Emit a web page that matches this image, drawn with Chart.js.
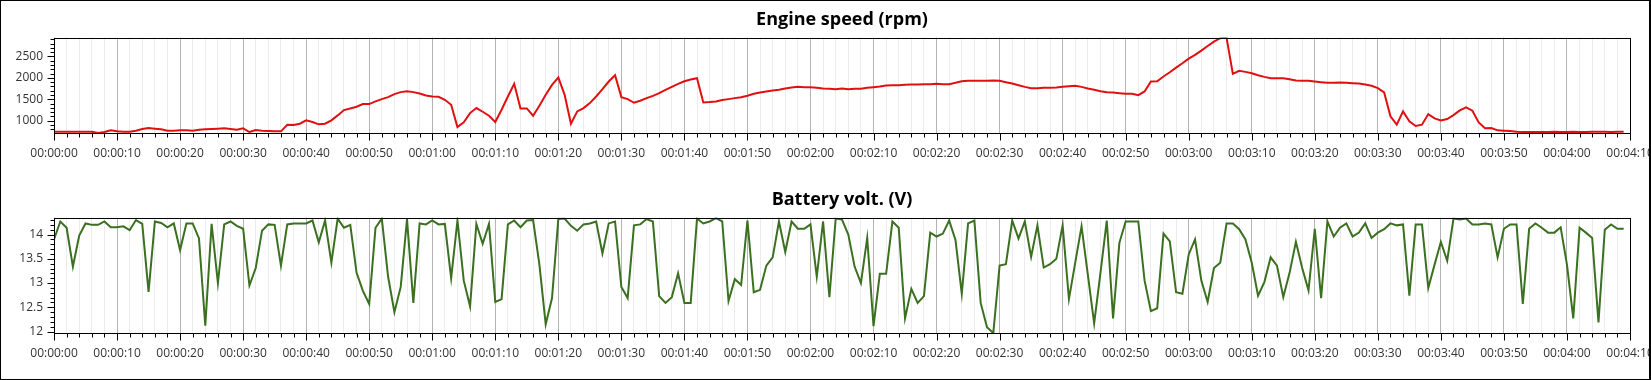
<!DOCTYPE html>
<html>
<head>
<meta charset="utf-8">
<title>Engine speed / Battery volt.</title>
<script src="https://cdn.jsdelivr.net/npm/chart.js@4.4.1/dist/chart.umd.min.js"></script>
<style>
  html, body { margin: 0; padding: 0; background: #fff; }
  #wrap { position: relative; width: 1651px; height: 380px; overflow: hidden; }
  #clip { position: absolute; left: 0; top: 0; width: 1649px; height: 380px; overflow: hidden; }
  #rpmCanvas { position: absolute; left: 0; top: 0; }
  #voltCanvas { position: absolute; left: 0; top: 180px; }
  #frame { position: absolute; left: 0; top: 0; width: 1651px; height: 380px; box-sizing: border-box;
           border: 1px solid #000; border-right-width: 2px; pointer-events: none; }
</style>
</head>
<body>
<div id="wrap">
  <div id="clip">
    <canvas id="rpmCanvas" width="1700" height="180"></canvas>
    <canvas id="voltCanvas" width="1700" height="200"></canvas>
  </div>
  <div id="frame"></div>
</div>
<script>
// x axis labels, one every 10 s
const TIME_LABELS = [
  '00:00:00', '00:00:10', '00:00:20', '00:00:30', '00:00:40', '00:00:50',
  '00:01:00', '00:01:10', '00:01:20', '00:01:30', '00:01:40', '00:01:50',
  '00:02:00', '00:02:10', '00:02:20', '00:02:30', '00:02:40', '00:02:50',
  '00:03:00', '00:03:10', '00:03:20', '00:03:30', '00:03:40', '00:03:50',
  '00:04:00', '00:04:10',
];
const RPM_LABELS = [1000, 1500, 2000, 2500];
const VOLT_LABELS = [12, 12.5, 13, 13.5, 14];

// one sample per second
const rpm = [
  740, 740, 740, 745, 745, 745, 740, 715, 735, 775,
  752, 745, 740, 765, 806, 829, 814, 798, 767, 767,
  775, 775, 767, 790, 798, 806, 814, 822, 806, 790,
  822, 736, 783, 767, 760, 752, 752, 907, 899, 930,
  1008, 969, 915, 930, 1008, 1124, 1248, 1287, 1326, 1388,
  1388, 1450, 1504, 1550, 1620, 1667, 1690, 1667, 1636, 1589,
  1566, 1558, 1488, 1372, 853, 961, 1178, 1295, 1209, 1116,
  969, 1256, 1566, 1860, 1287, 1287, 1116, 1349, 1605, 1837,
  2008, 1605, 930, 1217, 1295, 1411, 1566, 1736, 1915, 2062,
  1550, 1504, 1419, 1465, 1527, 1581, 1643, 1721, 1790, 1860,
  1922, 1961, 1992, 1426, 1434, 1450, 1481, 1504, 1527, 1550,
  1581, 1628, 1659, 1682, 1705, 1721, 1752, 1775, 1790, 1783,
  1783, 1767, 1752, 1744, 1736, 1752, 1736, 1744, 1744, 1767,
  1783, 1798, 1822, 1829, 1829, 1837, 1845, 1845, 1853, 1853,
  1860, 1853, 1853, 1884, 1922, 1930, 1930, 1930, 1930, 1938,
  1930, 1899, 1868, 1829, 1790, 1760, 1760, 1767, 1767, 1775,
  1790, 1806, 1814, 1790, 1752, 1721, 1690, 1667, 1659, 1643,
  1628, 1628, 1597, 1682, 1915, 1922, 2031, 2132, 2240, 2341,
  2450, 2535, 2636, 2744, 2845, 2925, 2940, 2093, 2163, 2140,
  2109, 2062, 2023, 1992, 1992, 1992, 1969, 1938, 1930, 1930,
  1915, 1899, 1884, 1884, 1891, 1884, 1876, 1868, 1845, 1814,
  1760, 1659, 1101, 907, 1217, 985, 876, 907, 1155, 1054,
  1008, 1039, 1132, 1240, 1310, 1233, 961, 822, 829, 775,
  767, 760, 744, 736, 736, 736, 736, 736, 740, 736,
  736, 740, 736, 736, 740, 744, 740, 736, 740, 744,
];

const volt = [
  13.90, 14.27, 14.14, 13.34, 13.98, 14.23, 14.20, 14.20, 14.27, 14.15,
  14.15, 14.17, 14.09, 14.30, 14.22, 12.82, 14.27, 14.24, 14.15, 14.23,
  13.68, 14.23, 14.23, 13.92, 12.12, 14.22, 13.00, 14.21, 14.27, 14.18,
  14.12, 12.95, 13.31, 14.08, 14.21, 14.20, 13.36, 14.21, 14.23, 14.23,
  14.23, 14.29, 13.84, 14.29, 13.42, 14.33, 14.14, 14.20, 13.21, 12.84,
  12.57, 14.14, 14.33, 13.13, 12.40, 12.92, 14.32, 12.59, 14.23, 14.21,
  14.29, 14.21, 14.22, 13.10, 14.29, 13.05, 12.52, 14.22, 13.81, 14.22,
  12.61, 12.67, 14.21, 14.29, 14.15, 14.29, 14.30, 13.38, 12.15, 12.69,
  14.32, 14.33, 14.18, 14.08, 14.21, 14.23, 14.27, 13.61, 14.23, 14.27,
  12.92, 12.69, 14.19, 14.21, 14.32, 14.27, 12.73, 12.59, 12.71, 13.20,
  12.59, 12.59, 14.33, 14.23, 14.27, 14.34, 14.27, 12.63, 13.08, 12.96,
  14.29, 12.81, 12.86, 13.36, 13.53, 14.27, 13.64, 14.27, 14.12, 14.12,
  14.21, 13.13, 14.27, 12.71, 14.33, 14.31, 14.00, 13.34, 13.00, 13.93,
  12.11, 13.19, 13.19, 14.27, 14.14, 12.27, 12.88, 12.59, 12.73, 14.04,
  13.96, 14.02, 14.29, 13.89, 12.78, 14.23, 14.29, 12.59, 12.09, 11.97,
  13.36, 13.39, 14.29, 13.92, 14.27, 13.54, 14.19, 13.32, 13.39, 13.50,
  14.19, 12.67, 13.42, 14.17, 13.17, 12.17, 13.21, 14.29, 12.27, 13.83,
  14.27, 14.27, 14.27, 13.05, 12.42, 12.48, 14.02, 13.86, 12.81, 12.78,
  13.59, 13.90, 13.05, 12.61, 13.31, 13.42, 14.23, 14.23, 14.11, 13.90,
  13.42, 12.74, 13.02, 13.53, 13.36, 12.71, 13.21, 13.85, 13.31, 12.85,
  14.12, 12.69, 14.27, 13.96, 14.14, 14.23, 13.96, 14.04, 14.23, 13.93,
  14.04, 14.11, 14.23, 14.19, 14.21, 12.74, 14.21, 14.21, 12.90, 13.38,
  13.85, 13.46, 14.33, 14.31, 14.33, 14.21, 14.21, 14.23, 14.21, 13.53,
  14.12, 14.21, 14.21, 12.57, 14.12, 14.23, 14.14, 14.04, 14.04, 14.15,
  13.38, 12.27, 14.14, 14.04, 13.93, 12.19, 14.10, 14.21, 14.12, 14.12,
];

const FONT = '"Segoe UI", "Open Sans", sans-serif';
const X_MAX = (TIME_LABELS.length - 1) * 10;

// minor ticks on the value axis: 100 rpm / 0.1 V
function minorTicks(from, to, step) {
  const out = [];
  for (let v = from; v <= to + step / 2; v += step) out.push(Math.round(v * 100) / 100);
  return out;
}

// small tick marks outside the plot + black frame round the plot
const axisMarks = {
  id: 'axisMarks',
  afterDraw(chart, args, opts) {
    const { ctx, chartArea: a, scales: { x, y } } = chart;
    const left = Math.round(a.left) + 0.5;
    const bottom = Math.round(a.bottom) + 0.5;
    ctx.save();
    ctx.strokeStyle = '#000';
    ctx.lineWidth = 1;
    ctx.beginPath();
    x.ticks.forEach(t => {
      const px = Math.round(x.getPixelForValue(t.value)) + 0.5;
      ctx.moveTo(px, bottom);
      ctx.lineTo(px, bottom + (t.value % 10 === 0 ? 7 : 4));
    });
    y.ticks.forEach(t => {
      const py = Math.round(y.getPixelForValue(t.value)) + 0.5;
      ctx.moveTo(left, py);
      ctx.lineTo(left - (opts.major.includes(t.value) ? 7 : 4), py);
    });
    ctx.stroke();
    ctx.strokeRect(left, Math.round(a.top) + 0.5, Math.round(a.right) - Math.round(a.left), Math.round(a.bottom) - Math.round(a.top));
    ctx.restore();
  },
};

function drawChart(id, title, data, color, yMin, yMax, major, minor) {
  return new Chart(document.getElementById(id), {
    type: 'line',
    data: {
      datasets: [{
        data: data.map((v, i) => ({ x: i, y: v })),
        borderColor: color,
        borderWidth: 2,
        pointRadius: 0,
        tension: 0,
      }],
    },
    options: {
      responsive: false,
      animation: false,
      events: [],
      layout: { padding: { left: 0, right: 70, top: 0, bottom: 0 } },
      scales: {
        x: {
          type: 'linear',
          min: 0,
          max: X_MAX,
          afterBuildTicks: s => { s.ticks = minorTicks(0, X_MAX, 2).map(v => ({ value: v })); },
          afterFit: s => { s.height = 47; },
          border: { display: false },
          grid: {
            drawTicks: false,
            color: c => (c.tick && c.tick.value % 10 === 0 ? '#b4b4b4' : '#ececec'),
          },
          ticks: {
            autoSkip: false,
            maxRotation: 0,
            padding: 13,
            color: '#333',
            font: { family: FONT, size: 12 },
            callback: v => (v % 10 === 0 ? TIME_LABELS[v / 10] : ''),
          },
        },
        y: {
          min: yMin,
          max: yMax,
          afterBuildTicks: s => { s.ticks = minor.map(v => ({ value: v })); },
          afterFit: s => { s.width = 54; },
          border: { display: false },
          grid: { display: false, drawTicks: false },
          ticks: {
            autoSkip: false,
            padding: 11,
            color: '#333',
            font: { family: FONT, size: 12 },
            callback: v => (major.includes(v) ? String(v) : ''),
          },
        },
      },
      plugins: {
        legend: { display: false },
        tooltip: { enabled: false },
        title: {
          display: true,
          text: title,
          fullSize: false,
          color: '#000',
          font: { family: FONT, size: 18, weight: 'bold' },
          padding: { top: 9, bottom: 7 },
        },
        axisMarks: { major },
      },
    },
    plugins: [axisMarks],
  });
}

drawChart('rpmCanvas', 'Engine speed (rpm)', rpm, '#e01010', 713, 2940, RPM_LABELS, minorTicks(800, 2900, 100));
drawChart('voltCanvas', 'Battery volt. (V)', volt, '#3a7020', 11.97, 14.35, VOLT_LABELS, minorTicks(12, 14.3, 0.1));
</script>
</body>
</html>
